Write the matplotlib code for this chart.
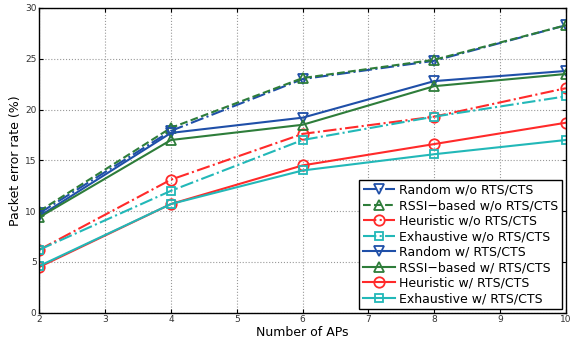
import numpy as np
from matplotlib import pyplot as plt

# number of APs
aps = [2, 4, 6, 8, 10]

# packet error rate (%) without RTS/CTS
random_wo = [9.8, 17.9, 23.0, 24.8, 28.3]
rssi_wo = [10.0, 18.2, 23.1, 24.9, 28.3]
heur_wo = [6.2, 13.1, 17.6, 19.3, 22.1]
exh_wo = [6.2, 12.0, 17.0, 19.3, 21.3]

# packet error rate (%) with RTS/CTS
random_w = [9.5, 17.7, 19.2, 22.8, 23.8]
rssi_w = [9.4, 17.0, 18.5, 22.3, 23.5]
heur_w = [4.5, 10.7, 14.5, 16.6, 18.7]
exh_w = [4.6, 10.7, 14.0, 15.6, 17.0]

labels = ['Random w/o RTS/CTS', 'RSSI\u2212based w/o RTS/CTS',
          'Heuristic w/o RTS/CTS', 'Exhaustive w/o RTS/CTS',
          'Random w/ RTS/CTS', 'RSSI\u2212based w/ RTS/CTS',
          'Heuristic w/ RTS/CTS', 'Exhaustive w/ RTS/CTS']

blue = '#1f4fa8'
green = '#2e7d3a'
red = '#ff2a2a'
cyan = '#22b8b8'

fig = plt.figure(figsize=(5.71, 3.47), dpi=100)
ax = fig.add_axes([0.069, 0.099, 0.922, 0.878])

ms = 7.5
lw = 1.5
ax.plot(aps, random_wo, color=blue, ls='-.', marker='v', mfc='none', ms=ms, mew=1.3, lw=lw, label=labels[0])
ax.plot(aps, rssi_wo, color=green, ls='--', marker='^', mfc='none', ms=ms, mew=1.3, lw=lw, label=labels[1])
ax.plot(aps, heur_wo, color=red, ls='-.', marker='o', mfc='none', ms=ms, mew=1.3, lw=lw, label=labels[2])
ax.plot(aps, exh_wo, color=cyan, ls='-.', marker='s', mfc='none', ms=5.5, mew=1.3, lw=lw, label=labels[3])
ax.plot(aps, random_w, color=blue, ls='-', marker='v', mfc='none', ms=ms, mew=1.3, lw=lw, label=labels[4])
ax.plot(aps, rssi_w, color=green, ls='-', marker='^', mfc='none', ms=ms, mew=1.3, lw=lw, label=labels[5])
ax.plot(aps, heur_w, color=red, ls='-', marker='o', mfc='none', ms=ms, mew=1.3, lw=lw, label=labels[6])
ax.plot(aps, exh_w, color=cyan, ls='-', marker='s', mfc='none', ms=5.5, mew=1.3, lw=lw, label=labels[7])

ax.set_xlim(2, 10)
ax.set_ylim(0, 30)
ax.set_xticks(range(2, 11))
ax.set_yticks(range(0, 31, 5))
ax.tick_params(labelsize=6.5, labelcolor='#333333', direction='in', length=3, top=True, right=True, pad=2)
ax.grid(True, ls=':', color='#999999', lw=0.8)
for s in ax.spines.values():
    s.set_linewidth(1.0)
ax.set_xlabel('Number of APs', fontsize=9, labelpad=1)
ax.set_ylabel('Packet error rate (%)', fontsize=9, labelpad=2)

leg = ax.legend(loc='lower right', fontsize=9, fancybox=False, edgecolor='black',
                handlelength=2.6, borderpad=0.3, labelspacing=0.2, handletextpad=0.3,
                borderaxespad=0.3, framealpha=1)
leg.get_frame().set_linewidth(1.0)

plt.savefig('out.png', dpi=100)
